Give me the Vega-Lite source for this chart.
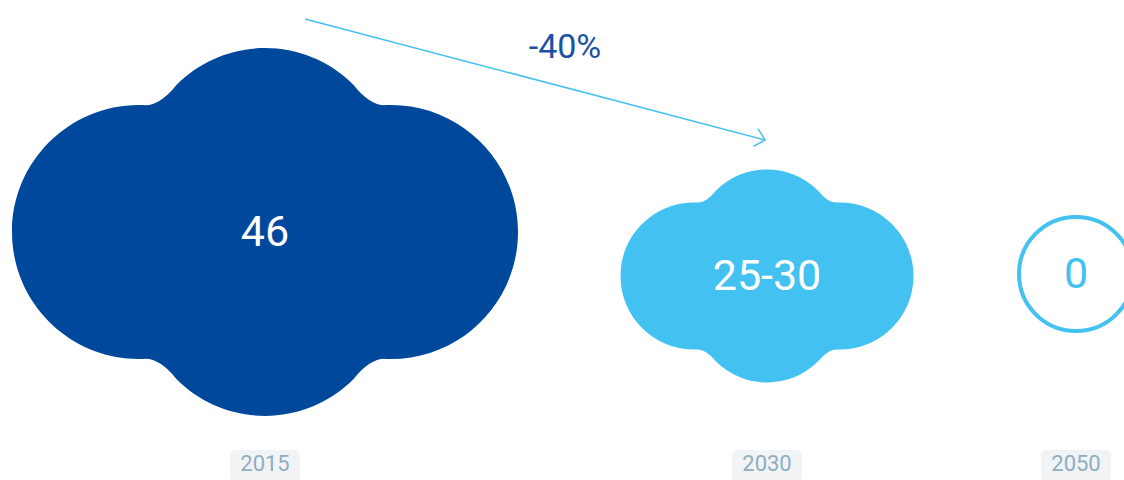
{
  "$schema": "https://vega.github.io/schema/vega-lite/v6.json",
  "width": 1124,
  "height": 480,
  "autosize": {"type": "fit", "contains": "padding"},
  "padding": 0,
  "background": "#FFFFFF",
  "config": {"view": {"stroke": null}, "font": "Roboto", "text": {"font": "Roboto"}},
  "datasets": {
    "stages": [
      {"year": 2015, "label": "46", "value": 46},
      {"year": 2030, "label": "25-30", "value": 27.5},
      {"year": 2050, "label": "0", "value": 0}
    ],
    "reduction": [
      {"from": 2015, "to": 2030, "pct": "-40%"}
    ]
  },
  "layer": [
    {
      "data": {"name": "stages"},
      "encoding": {
        "x": {"field": "year", "type": "quantitative", "axis": null,
              "scale": {"domain": [2015, 2030, 2050], "range": [265, 767, 1076], "zero": false, "nice": false}},
        "y": {"field": "year", "type": "quantitative", "axis": null,
              "scale": {"domain": [2015, 2030, 2050], "range": [232, 276, 274], "zero": false, "nice": false}}
      },
      "layer": [
        {
          "transform": [{"filter": "datum.value > 0"}],
          "mark": {
            "type": "point",
            "shape": "M -0.4805 -0.5017 Q -0.418 -0.496 -0.3493 -0.5823 C -0.1564 -0.7752 0.1564 -0.7752 0.3493 -0.5823 Q 0.418 -0.496 0.4805 -0.5017 C 0.7644 -0.5116 1 -0.2841 1 0 C 1 0.2841 0.7644 0.5116 0.4805 0.5017 Q 0.418 0.496 0.3493 0.5823 C 0.1564 0.7752 -0.1564 0.7752 -0.3493 0.5823 Q -0.418 0.496 -0.4805 0.5017 C -0.7644 0.5116 -1 0.2841 -1 0 C -1 -0.2841 -0.7644 -0.5116 -0.4805 -0.5017 Z",
            "filled": true,
            "opacity": 1,
            "strokeWidth": 0
          },
          "encoding": {
            "size": {"field": "value", "type": "quantitative", "legend": null,
                     "scale": {"type": "linear", "domain": [27.5, 46], "range": [85849, 256036], "zero": false, "nice": false}},
            "color": {"condition": {"test": "datum.year === 2015", "value": "#00489B"}, "value": "#43C1F0"}
          }
        },
        {
          "transform": [{"filter": "datum.value === 0"}],
          "mark": {"type": "point", "shape": "circle", "filled": false, "size": 12996, "strokeWidth": 4, "color": "#43C1F0", "opacity": 1}
        },
        {
          "mark": {"type": "text", "fontSize": 43, "align": "center", "baseline": "middle", "dy": 1, "font": "Roboto"},
          "encoding": {
            "text": {"field": "label"},
            "color": {"condition": {"test": "datum.value === 0", "value": "#43C1F0"}, "value": "#FFFFFF"}
          }
        }
      ]
    },
    {
      "data": {"name": "stages"},
      "encoding": {
        "x": {"field": "year", "type": "quantitative", "axis": null,
              "scale": {"domain": [2015, 2030, 2050], "range": [265, 767, 1076], "zero": false, "nice": false}},
        "y": {"field": "year", "type": "quantitative", "axis": null,
              "scale": {"domain": [2015, 2050], "range": [466, 466], "zero": false, "nice": false}}
      },
      "layer": [
        {
          "mark": {
            "type": "point",
            "shape": "M -0.83 -0.457 L 0.83 -0.457 Q 1 -0.457 1 -0.287 L 1 0.287 Q 1 0.457 0.83 0.457 L -0.83 0.457 Q -1 0.457 -1 0.287 L -1 -0.287 Q -1 -0.457 -0.83 -0.457 Z",
            "filled": true, "opacity": 1, "size": 4900, "color": "#F1F3F5", "strokeWidth": 0
          }
        },
        {
          "mark": {"type": "text", "fontSize": 22, "align": "center", "baseline": "middle", "dy": -2, "color": "#8DAEC1", "font": "Roboto"},
          "encoding": {"text": {"field": "year", "type": "nominal"}}
        }
      ]
    },
    {
      "layer": [
        {
          "data": {"name": "stages"},
          "transform": [{"filter": "datum.year <= 2030"}],
          "mark": {"type": "line", "color": "#43C1F0", "strokeWidth": 1.5},
          "encoding": {
            "x": {"field": "year", "type": "quantitative", "axis": null,
                  "scale": {"domain": [2015, 2030], "range": [305, 765], "zero": false, "nice": false}},
            "y": {"field": "value", "type": "quantitative", "axis": null,
                  "scale": {"domain": [46, 27.5], "range": [19, 140], "zero": false, "nice": false}},
            "order": {"field": "year"}
          }
        },
        {
          "data": {"name": "stages"},
          "transform": [{"filter": "datum.year === 2030"}],
          "mark": {"type": "point", "shape": "M -1 -0.95 L 0 0 L -1 0.95", "filled": false, "opacity": 1,
                   "size": 361, "angle": 14.75, "strokeWidth": 1.5, "color": "#43C1F0"},
          "encoding": {
            "x": {"field": "year", "type": "quantitative", "axis": null},
            "y": {"field": "value", "type": "quantitative", "axis": null}
          }
        },
        {
          "data": {"name": "reduction"},
          "transform": [
            {"lookup": "from", "from": {"data": {"name": "stages"}, "key": "year", "fields": ["value"]}}
          ],
          "mark": {"type": "text", "fontSize": 34, "align": "center", "baseline": "middle", "dx": 260, "dy": 29, "color": "#1A52A3", "font": "Roboto"},
          "encoding": {
            "x": {"field": "from", "type": "quantitative", "axis": null},
            "y": {"field": "value", "type": "quantitative", "axis": null},
            "text": {"field": "pct"}
          }
        }
      ]
    }
  ],
  "resolve": {"scale": {"x": "independent", "y": "independent", "size": "independent"}}
}
